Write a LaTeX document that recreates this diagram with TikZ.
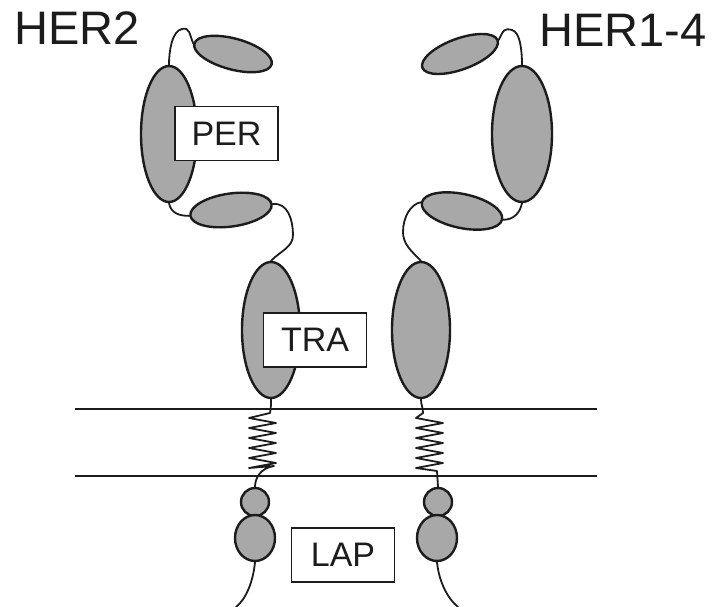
\documentclass[tikz,border=0pt]{standalone}
\usepackage{fontspec}
\setmainfont{Liberation Sans}
\usetikzlibrary{shapes.geometric}
\definecolor{domfill}{RGB}{168,168,168}
\definecolor{inkc}{RGB}{28,28,28}
\begin{document}
\begin{tikzpicture}[x=1pt,y=-1pt,
  protdom/.style={ellipse,draw=inkc,fill=domfill,line width=2.4pt,inner sep=0pt},
  link/.style={draw=inkc,line width=1.8pt,line cap=round,line join=round},
  membrane/.style={draw=inkc,line width=1.9pt},
  tag/.style={draw=inkc,fill=white,line width=1.6pt,minimum width=103pt,
    minimum height=54pt,inner sep=0pt,text=inkc,font=\fontsize{34}{40}\selectfont},
  title/.style={font=\fontsize{47}{56}\selectfont,inner sep=0pt,text=inkc}]
\useasboundingbox (0,0) rectangle (713,607);

% membrane
\coordinate (m1a) at (75,409);  \coordinate (m1b) at (597,409);
\coordinate (m2a) at (75,476);  \coordinate (m2b) at (597,476);
\draw[membrane] (m1a) -- (m1b);
\draw[membrane] (m2a) -- (m2b);

% HER2 domains
\node[protdom,minimum width=80pt,minimum height=31pt,rotate=-15] (L1) at (233,54) {};
\node[protdom,minimum width=56pt,minimum height=136pt] (L2) at (169,134) {};
\node[protdom,minimum width=82pt,minimum height=33pt,rotate=8] (L3) at (231,210) {};
\node[protdom,minimum width=58pt,minimum height=136pt] (L4) at (271,330) {};
\node[protdom,minimum width=28pt,minimum height=28pt] (L5) at (255,502) {};
\node[protdom,minimum width=40pt,minimum height=46pt] (L6) at (255,538) {};

% HER1-4 domains
\node[protdom,minimum width=80pt,minimum height=31pt,rotate=20] (R1) at (460,54) {};
\node[protdom,minimum width=60pt,minimum height=136pt] (R2) at (522,134) {};
\node[protdom,minimum width=82pt,minimum height=34pt,rotate=-12] (R3) at (462,211) {};
\node[protdom,minimum width=58pt,minimum height=136pt] (R4) at (421,330) {};
\node[protdom,minimum width=28pt,minimum height=28pt] (R5) at (438,502) {};
\node[protdom,minimum width=40pt,minimum height=46pt] (R6) at (437,538) {};

% HER2 linkers
\draw[link] (L1.west) .. controls +(-4,-9) and +(8,-2) .. (182,29)
  .. controls +(-10,2) and +(0,-14) .. (L2.north);
\draw[link] (L2.south) .. controls +(2,10) and +(-10,0) .. (L3.west);
\draw[link] (L3.east) .. controls +(15,-2) and +(0,-15) .. (293,235)
  .. controls +(0,12) and +(10,-10) .. (L4.north);
\draw[link] (L4.south) .. controls +(0,6) and +(1,-6) .. (270,413)
  \foreach \k in {0,...,4} { -- (249,{418+10*\k}) -- (276,{423+10*\k}) }
  -- (249,468) -- (274,466) .. controls +(-14,2) and +(0,-8) .. (L5.north);
\coordinate (Ltail) at (236,607);
\draw[link] (L6.south) .. controls +(-2,20) and +(10,-8) .. (Ltail);

% HER1-4 linkers
\draw[link] (R1.east) .. controls +(5,-10) and +(-8,-2) .. (512,30)
  .. controls +(8,2) and +(0,-15) .. (R2.north);
\draw[link] (R2.south) .. controls +(-2,10) and +(10,0) .. (R3.east);
\draw[link] (R3.west) .. controls +(-10,2) and +(0,-15) .. (403,232)
  .. controls +(0,12) and +(-10,-10) .. (R4.north);
\draw[link] (R4.south) .. controls +(0,6) and +(0,-6) .. (423,413)
  \foreach \k in {0,...,4} { -- (416,{418+10*\k}) -- (443,{423+10*\k}) }
  -- (416,468) -- (437,471) -- (R5.north);
\coordinate (Rtail) at (458,607);
\draw[link] (R6.south) .. controls +(2,20) and +(-10,-8) .. (Rtail);

% drug labels
\node[tag] (per) at (226.5,133.5) {PER};
\node[tag] (tra) at (315,340) {TRA};
\node[tag] (lap) at (343,555) {LAP};

% receptor names
\node[title,anchor=base west] (her2) at (14,45) {HER2};
\node[title,anchor=base east] (her14) at (707,47) {HER1-4};
\end{tikzpicture}
\end{document}
